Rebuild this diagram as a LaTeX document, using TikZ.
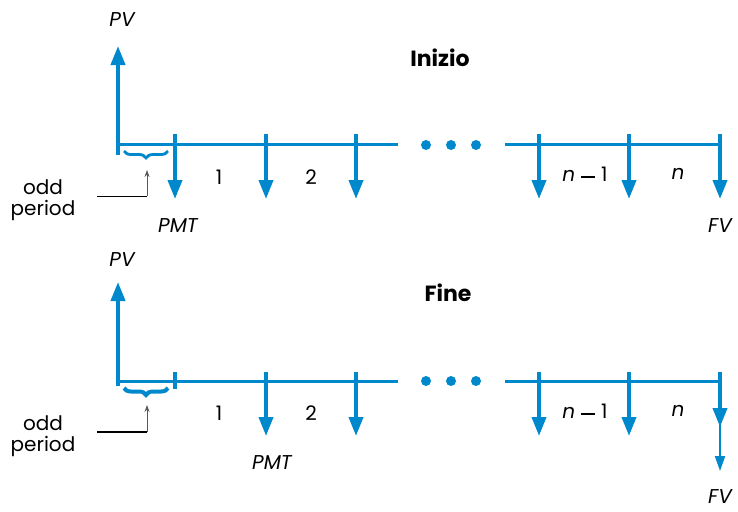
\documentclass[tikz,border=0pt]{standalone}
\usepackage{fontspec}
\setmainfont{Poppins}
\usetikzlibrary{arrows.meta,decorations.pathreplacing}
\definecolor{hpblue}{RGB}{0,136,204}
\newcommand{\mydash}{\hspace{0.3em}\rule[0.33ex]{0.7em}{1.6pt}\hspace{0.3em}}
\begin{document}
\begin{tikzpicture}[x=1pt,y=-1pt,
  tl/.style={hpblue,line width=3pt},
  bigarr/.style={hpblue,line width=3.8pt,-{Triangle[width=14pt,length=19pt]}},
  thinarr/.style={hpblue,line width=2pt,-{Triangle[width=10pt,length=15pt]}},
  lbl/.style={font=\fontsize{20}{24}\selectfont},
  ital/.style={font=\fontsize{20}{24}\selectfont\itshape},
  ttl/.style={font=\fontsize{22}{24}\selectfont\bfseries},
  dot/.style={circle,fill=hpblue,inner sep=0pt,minimum size=10pt},
  brc/.style={hpblue,line width=2.8pt,decorate,decoration={brace,mirror,amplitude=7pt}},
  small/.style={black,line width=0.8pt},
  smallarr/.style={gray!70!black,line width=1pt,-{Stealth[width=5pt,length=7pt]}}]
\useasboundingbox (0,0) rectangle (738,511);
% ================= TOP: Inizio =================
\node[ttl] (t1) at (440,58) {Inizio};
\coordinate (a0b) at (118,155);
\coordinate (a0t) at (118,46);
\draw[bigarr] (a0b) -- (a0t);
\node[ital] (pv1) at (122,20) {PV};
\coordinate (aL1s) at (116.5,144);
\coordinate (aL1e) at (398,144);
\coordinate (aL2s) at (505,144);
\coordinate (aL2e) at (721.5,144);
\draw[tl] (aL1s) -- (aL1e);
\draw[tl] (aL2s) -- (aL2e);
\node[dot] (ad1) at (426,145) {};
\node[dot] (ad2) at (451,145) {};
\node[dot] (ad3) at (476,145) {};
\foreach \x/\n in {175/1,266/2,356/3,539/4,629/5,720/6}{
  \coordinate (au\n) at (\x,134);
  \coordinate (ad\n e) at (\x,199);
  \draw[bigarr] (au\n) -- (ad\n e);
}
\node[lbl] (a1) at (219,177) {1};
\node[lbl] (a2) at (311,177) {2};
\node[lbl] (an1) at (585,174) {\textit{n}\mydash 1};
\node[ital] (an) at (678,174) {n};
\node[ital] (pmt1) at (178,226) {PMT};
\node[ital] (fv1) at (720,226) {FV};
\coordinate (abr1) at (124,151);
\coordinate (abr2) at (168,151);
\draw[brc] (abr1) -- (abr2);
\coordinate (aop) at (97,196);
\coordinate (aopc) at (147,196);
\coordinate (aopt) at (147,170);
\draw[small] (aop) -- (aopc);
\draw[smallarr] (aopc) -- (aopt);
\node[lbl,align=center,inner sep=0pt] (aodd) at (43,200) {odd\\[-3pt]period};
% ================= BOTTOM: Fine =================
\node[ttl] (t2) at (448,293) {Fine};
\coordinate (b0b) at (118,386);
\coordinate (b0t) at (118,282);
\draw[bigarr] (b0b) -- (b0t);
\node[ital] (pv2) at (122,260) {PV};
\coordinate (bL1s) at (116.5,381);
\coordinate (bL1e) at (398,381);
\coordinate (bL2s) at (505,381);
\coordinate (bL2e) at (721.5,381);
\draw[tl] (bL1s) -- (bL1e);
\draw[tl] (bL2s) -- (bL2e);
\node[dot] (bd1) at (426,381) {};
\node[dot] (bd2) at (451,381) {};
\node[dot] (bd3) at (476,381) {};
\coordinate (btk1) at (175,372);
\coordinate (btk2) at (175,389);
\draw[hpblue,line width=3.8pt] (btk1) -- (btk2);
\foreach \x/\n in {266/2,356/3,539/4,629/5}{
  \coordinate (bu\n) at (\x,372);
  \coordinate (bd\n e) at (\x,436);
  \draw[bigarr] (bu\n) -- (bd\n e);
}
\coordinate (bu6) at (720,372);
\coordinate (bm6) at (720,427);
\coordinate (bm6b) at (720,418);
\coordinate (be6) at (720,471);
\draw[thinarr] (bm6b) -- (be6);
\draw[bigarr] (bu6) -- (bm6);
\node[lbl] (b1) at (219,413) {1};
\node[lbl] (b2) at (311,413) {2};
\node[lbl] (bn1) at (585,411) {\textit{n}\mydash 1};
\node[ital] (bn) at (678,411) {n};
\node[ital] (pmt2) at (272,463) {PMT};
\node[ital,inner sep=0pt] (fv2) at (720,497) {FV};
\coordinate (bbr1) at (124,388);
\coordinate (bbr2) at (168,388);
\draw[brc,line width=4pt] (bbr1) -- (bbr2);
\coordinate (bop) at (97,432);
\coordinate (bopc) at (147,432);
\coordinate (bopt) at (147,405);
\draw[small,line width=1.2pt] (bop) -- (bopc);
\draw[smallarr] (bopc) -- (bopt);
\node[lbl,align=center,inner sep=0pt] (bodd) at (43,436) {odd\\[-3pt]period};
\end{tikzpicture}
\end{document}
